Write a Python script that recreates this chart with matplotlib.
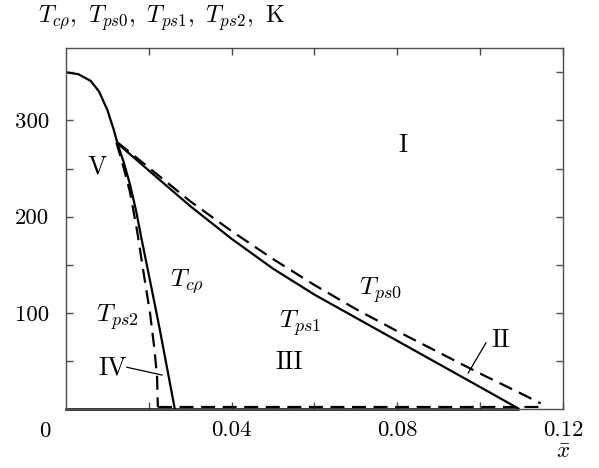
import matplotlib
matplotlib.use("Agg")
import matplotlib.pyplot as plt

plt.rcParams['font.family'] = 'serif'
plt.rcParams['font.serif'] = ['cmr10']
plt.rcParams['mathtext.fontset'] = 'cm'
plt.rcParams['axes.formatter.use_mathtext'] = True

# curves
t_crho_x = [0.0, 0.003, 0.006, 0.008, 0.010, 0.0115, 0.0126, 0.0140, 0.0155, 0.0170,
            0.0183, 0.0200, 0.0215, 0.0227, 0.0245, 0.0263]
t_crho_y = [350, 348, 341, 330, 311, 291, 274, 256, 233, 205,
            176, 140, 108, 82, 41, 0]

t_ps2_x = [0.0122, 0.0140, 0.0155, 0.0172, 0.0190, 0.0203, 0.0213, 0.0220, 0.0222]
t_ps2_y = [277, 250, 225, 185, 135, 100, 65, 34, 2]

t_ps1_x = [0.0125, 0.020, 0.030, 0.040, 0.050, 0.060, 0.070, 0.080, 0.090, 0.100, 0.1091]
t_ps1_y = [276, 248, 211, 177, 146, 119, 95, 71, 47, 23, 1]

t_ps0_x = [0.0125, 0.020, 0.030, 0.040, 0.050, 0.060, 0.070, 0.080, 0.090, 0.100, 0.110, 0.1146]
t_ps0_y = [277, 251, 216, 185, 156, 129, 104, 81, 59, 37, 16, 6]

base_solid_x = [0.0, 0.1091]
base_solid_y = [0, 0]
base_dash_x = [0.0222, 0.1160]
base_dash_y = [2, 2]

fig = plt.figure(figsize=(5.99, 4.68), dpi=100)
ax = fig.add_axes([0.110, 0.1256, 0.830, 0.7714])

dash = (6.3, 3.4)
ax.plot(t_crho_x, t_crho_y, color='black', lw=1.6)
ax.plot(t_ps1_x, t_ps1_y, color='black', lw=1.6)
ax.plot(t_ps2_x, t_ps2_y, color='black', lw=1.6, dashes=dash)
ax.plot(t_ps0_x, t_ps0_y, color='black', lw=1.6, dashes=dash)
ax.plot(base_solid_x, base_solid_y, color='black', lw=1.8, clip_on=False)
ax.plot(base_dash_x, base_dash_y, color='black', lw=1.6, dashes=dash, clip_on=False)

ax.set_xlim(0, 0.12)
ax.set_ylim(0, 375)

ax.set_xticks([0.02, 0.04, 0.06, 0.08, 0.10, 0.12])
ax.set_xticklabels(['', '0.04', '', '0.08', '', '0.12'])
ax.set_yticks([50, 100, 150, 200, 250, 300, 350])
ax.set_yticklabels(['', '100', '', '200', '', '300', ''])
ax.tick_params(direction='in', length=5, width=1, color='0.3', labelsize=16.5,
               top=True, right=True)
ax.tick_params(axis='x', pad=8)
ax.tick_params(axis='y', pad=12)
for s in ax.spines.values():
    s.set_color('0.3')
    s.set_linewidth(1.0)

fig.text(45 / 599, 1 - 431 / 468, '0', fontsize=16.5, ha='center', va='center')
fig.text(38 / 599, 1 - 18 / 468,
         r'$T_{c\rho},\ T_{ps0},\ T_{ps1},\ T_{ps2},$ K',
         fontsize=17.5, ha='left', va='center')
fig.text(563 / 599, 1 - 452 / 468, r'$\bar{x}$', fontsize=16.5, ha='center', va='center')

fs = 18.5
ax.text(0.0814, 274, 'I', fontsize=fs, ha='center', va='center')
ax.text(0.0075, 252, 'V', fontsize=fs, ha='center', va='center')
ax.text(0.0292, 132, r'$T_{c\rho}$', fontsize=fs, ha='center', va='center')
ax.text(0.0125, 96, r'$T_{ps2}$', fontsize=fs, ha='center', va='center')
ax.text(0.0565, 90, r'$T_{ps1}$', fontsize=fs, ha='center', va='center')
ax.text(0.0758, 124, r'$T_{ps0}$', fontsize=fs, ha='center', va='center')
ax.text(0.0540, 49, 'III', fontsize=fs, ha='center', va='center')
ax.text(0.0113, 43, 'IV', fontsize=fs, ha='center', va='center')
ax.text(0.1050, 72, 'II', fontsize=fs, ha='center', va='center')

# leader lines
ax.plot([0.0147, 0.0232], [43.6, 35.5], color='black', lw=0.9)
ax.plot([0.1014, 0.0971], [69, 37.6], color='black', lw=0.9)

fig.savefig('out.png', dpi=100)
